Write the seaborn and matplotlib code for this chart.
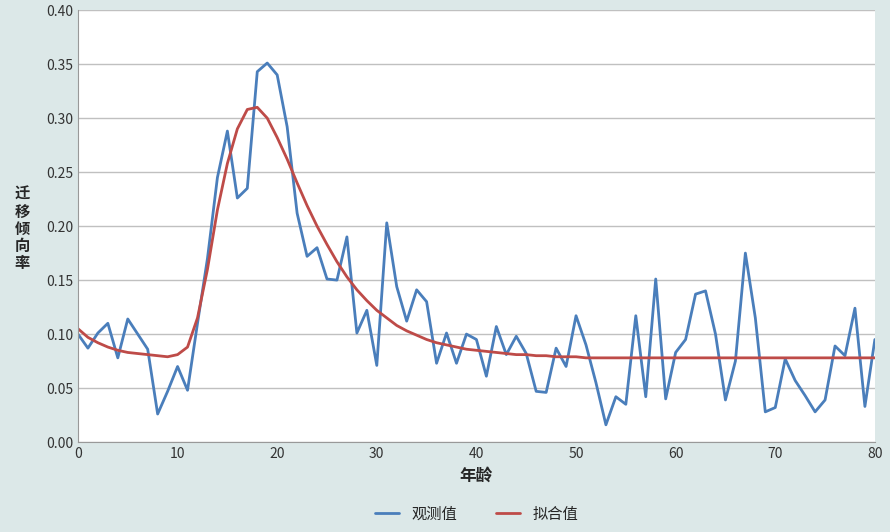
import numpy as np
import pandas as pd
import matplotlib
matplotlib.use('Agg')
import matplotlib.pyplot as plt
import seaborn as sns

ages = list(range(81))

observed = [0.100, 0.087, 0.101, 0.110, 0.078, 0.114, 0.100, 0.086, 0.026, 0.047,
            0.070, 0.048, 0.110, 0.170, 0.245, 0.288, 0.226, 0.235, 0.343, 0.351,
            0.340, 0.292, 0.212, 0.172, 0.180, 0.151, 0.150, 0.190, 0.101, 0.122,
            0.071, 0.203, 0.144, 0.112, 0.141, 0.130, 0.073, 0.101, 0.073, 0.100,
            0.095, 0.061, 0.107, 0.081, 0.098, 0.082, 0.047, 0.046, 0.087, 0.070,
            0.117, 0.090, 0.055, 0.016, 0.042, 0.035, 0.117, 0.042, 0.151, 0.040,
            0.083, 0.095, 0.137, 0.140, 0.100, 0.039, 0.075, 0.175, 0.115, 0.028,
            0.032, 0.077, 0.057, 0.043, 0.028, 0.039, 0.089, 0.080, 0.124, 0.033,
            0.095]

fitted = [0.105, 0.097, 0.092, 0.088, 0.085, 0.083, 0.082, 0.081, 0.080, 0.079,
          0.081, 0.088, 0.115, 0.160, 0.215, 0.258, 0.290, 0.308, 0.310, 0.300,
          0.282, 0.262, 0.240, 0.219, 0.200, 0.183, 0.167, 0.153, 0.141, 0.131,
          0.122, 0.115, 0.108, 0.103, 0.099, 0.095, 0.092, 0.090, 0.088, 0.086,
          0.085, 0.084, 0.083, 0.082, 0.081, 0.081, 0.080, 0.080, 0.079, 0.079,
          0.079, 0.078, 0.078, 0.078, 0.078, 0.078, 0.078, 0.078, 0.078, 0.078,
          0.078, 0.078, 0.078, 0.078, 0.078, 0.078, 0.078, 0.078, 0.078, 0.078,
          0.078, 0.078, 0.078, 0.078, 0.078, 0.078, 0.078, 0.078, 0.078, 0.078,
          0.078]

sns.set_style('white')
plt.rcParams['font.family'] = ['Noto Sans CJK SC', 'DejaVu Sans']

df = pd.DataFrame({'年龄': ages, '观测值': observed, '拟合值': fitted})
long = df.melt(id_vars='年龄', var_name='series', value_name='rate')

fig = plt.figure(figsize=(8.9, 5.32), dpi=100, facecolor='#dce8e8')
ax = fig.add_axes([0.0876, 0.169, 0.8954, 0.812])
ax.set_facecolor('white')

sns.lineplot(data=long, x='年龄', y='rate', hue='series',
             palette={'观测值': '#4a7ebb', '拟合值': '#be4b48'},
             linewidth=2, ax=ax)

ax.set_xlim(0, 80)
ax.set_ylim(0, 0.40)
ax.set_xticks(range(0, 81, 10))
ax.set_yticks(np.arange(0, 0.41, 0.05))
ax.set_yticklabels([f'{v:.2f}' for v in np.arange(0, 0.41, 0.05)])
ax.yaxis.grid(True, color='#c0c0c0', linewidth=1)
ax.tick_params(labelsize=10, colors='#333333', length=0)
for s in ['top', 'right']:
    ax.spines[s].set_visible(False)
ax.spines['left'].set_color('#999999')
ax.spines['bottom'].set_color('#999999')

ax.set_xlabel('年龄', fontsize=12, fontweight='bold', labelpad=4)
ax.set_ylabel('')
fig.text(0.025, 0.57, '迁\n移\n倾\n向\n率', fontsize=11, fontweight='bold',
         ha='center', va='center', linespacing=1.1)

handles, labels = ax.get_legend_handles_labels()
ax.legend(handles, labels, loc='upper center', bbox_to_anchor=(0.5, -0.115),
          ncol=2, frameon=False, fontsize=11, handlelength=1.6, columnspacing=2.5)

fig.savefig('out.png', dpi=100, facecolor=fig.get_facecolor())
